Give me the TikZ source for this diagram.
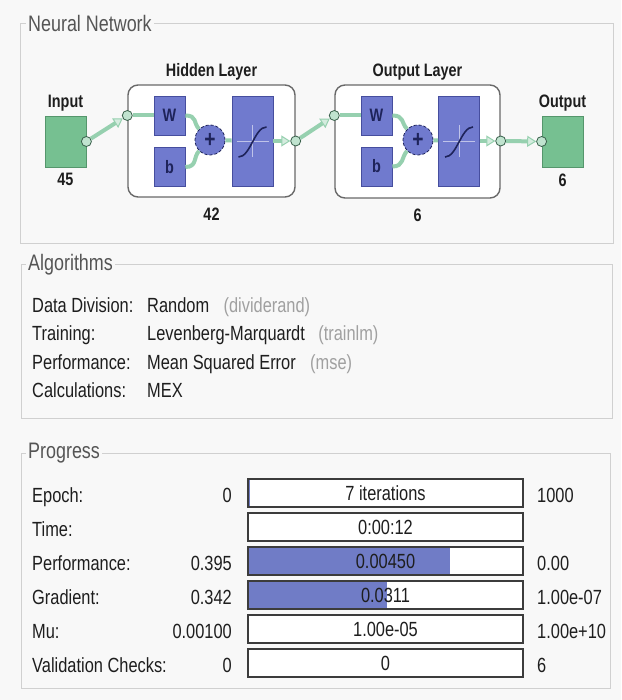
\documentclass[tikz,border=0pt]{standalone}
\usepackage{fontspec}
\setmainfont{Liberation Sans}[FakeStretch=0.8]
\usetikzlibrary{arrows.meta, positioning}

\definecolor{bgcol}{RGB}{248,248,248}
\definecolor{framegray}{RGB}{208,208,208}
\definecolor{titlegray}{RGB}{85,85,85}
\definecolor{textdark}{RGB}{30,30,30}
\definecolor{parengray}{RGB}{160,160,160}
\definecolor{iogreen}{RGB}{118,192,145}
\definecolor{iogreenedge}{RGB}{85,150,108}
\definecolor{conngreen}{RGB}{150,208,175}
\definecolor{connedge}{RGB}{95,160,125}
\definecolor{blockblue}{RGB}{112,122,206}
\definecolor{blockedge}{RGB}{70,78,158}
\definecolor{navy}{RGB}{30,35,90}
\definecolor{layergray}{RGB}{105,105,105}
\definecolor{bardark}{RGB}{60,60,60}
\definecolor{barblue}{RGB}{112,124,198}

\newcommand{\bodyfont}{\fontsize{20.5}{24}\selectfont}
\newcommand{\titlefont}{\fontsize{22.4}{26}\selectfont}
\newcommand{\netfont}{\bfseries\fontsize{18}{21}\selectfont}

\tikzset{
  panel/.style={draw=framegray, line width=0.9pt},
  paneltitle/.style={anchor=west, fill=bgcol, inner sep=2pt, text=titlegray, font=\titlefont},
  netlabel/.style={font=\netfont, text=textdark},
  iobox/.style={draw=iogreenedge, fill=iogreen, line width=0.8pt, minimum width=41pt, minimum height=51pt},
  layer/.style={draw=layergray, fill=white, rounded corners=10pt, line width=1.4pt},
  wbox/.style={draw=blockedge, fill=blockblue, line width=0.8pt, minimum width=31pt, minimum height=39pt, font=\netfont, text=navy},
  tfbox/.style={draw=blockedge, fill=blockblue, line width=0.8pt, minimum width=41pt, minimum height=90pt},
  sumnode/.style={circle, draw=navy, densely dashed, fill=blockblue, line width=0.8pt, minimum size=30pt, font=\bfseries\fontsize{24}{24}\selectfont, text=navy},
  port/.style={circle, draw=connedge!60!black, fill=conngreen!60!white, line width=0.8pt, minimum size=10pt},
  conn/.style={draw=conngreen, line width=4pt},
  flow/.style={conn, -{Triangle[length=9pt, width=11pt, line width=1pt, fill=conngreen!40!white]}},
  sigline/.style={draw=navy, line width=1.6pt},
  axisline/.style={draw=white!55!blockblue, line width=0.5pt},
  rowlabel/.style={anchor=base west},
  rowvalue/.style={anchor=base east},
  fname/.style={anchor=base west, text=parengray},
  bar/.style={draw=bardark, fill=white, line width=1.2pt, minimum width=275pt, minimum height=28pt},
  progress/.style={path picture={\fill[barblue] (path picture bounding box.south west) rectangle ([xshift=#1]path picture bounding box.north west);}}
}

\begin{document}
\begin{tikzpicture}[x=1pt, y=-1pt, every node/.style={inner sep=0pt, font=\bodyfont, text=textdark}]
  \useasboundingbox[fill=bgcol] (0,0) rectangle (621,700);

  % neural network panel
  \draw[panel] (20,23) rectangle (613,243);
  \node[paneltitle] (tNet) at (26,23) {Neural Network};

  \node[iobox] (in) at (65.5,141.5) {};
  \node[netlabel, above=4pt of in] (inName) {Input};
  \node[netlabel, below=6pt of in] (inSize) {45};
  \node[port] (inP) at (in.east) {};

  \node[layer, minimum width=167pt, minimum height=112pt] (hid) at (211.5,141) {};
  \node[netlabel, above=4pt of hid] (hidName) {Hidden Layer};
  \node[netlabel, below=10pt of hid] (hidSize) {42};
  \node[wbox] (hW) at (169.5,115.5) {W};
  \node[wbox] (hB) at (169.5,167) {b};
  \node[sumnode] (hSum) at (210,140) {+};
  \node[tfbox] (hTf) at (252.5,141) {};
  \draw[axisline, shift={(hTf.center)}] (-16,0) -- (16,0) (0,-16) -- (0,16);
  \draw[sigline, shift={(hTf.center)}] (-14,16) .. controls (-2,16) and (2,-14) .. (14,-14);
  \node[port] (hIn) at (hid.west |- hW) {};
  \node[port] (hOut) at (hid.east |- hTf) {};

  \node[layer, minimum width=165pt, minimum height=113pt] (out) at (417.5,141.5) {};
  \node[netlabel, above=4pt of out] (outName) {Output Layer};
  \node[netlabel, below=10pt of out] (outSize) {6};
  \node[wbox] (oW) at (376.5,115.5) {W};
  \node[wbox] (oB) at (376.5,166.5) {b};
  \node[sumnode] (oSum) at (418,140) {+};
  \node[tfbox] (oTf) at (459,141) {};
  \draw[axisline, shift={(oTf.center)}] (-16,0) -- (16,0) (0,-16) -- (0,16);
  \draw[sigline, shift={(oTf.center)}] (-14,16) .. controls (-2,16) and (2,-14) .. (14,-14);
  \node[port] (oIn) at (out.west |- oW) {};
  \node[port] (oOut) at (out.east |- oTf) {};

  \node[iobox] (res) at (562.5,141.5) {};
  \node[netlabel, above=4pt of res] (resName) {Output};
  \node[netlabel, below=6pt of res] (resSize) {6};
  \node[port] (resP) at (res.west) {};

  \draw[flow] (inP) -- (hIn);
  \draw[conn] (hIn) -- (hW);
  \draw[conn] (hW.east) .. controls +(12,0) and +(-6,-6) .. (hSum.north west);
  \draw[conn] (hB.east) .. controls +(12,0) and +(-6,6) .. (hSum.south west);
  \draw[conn] (hSum) -- (hTf);
  \draw[flow] (hTf) -- (hOut);
  \draw[flow] (hOut) -- (oIn);
  \draw[conn] (oIn) -- (oW);
  \draw[conn] (oW.east) .. controls +(12,0) and +(-6,-6) .. (oSum.north west);
  \draw[conn] (oB.east) .. controls +(12,0) and +(-6,6) .. (oSum.south west);
  \draw[conn] (oSum) -- (oTf);
  \draw[flow] (oTf) -- (oOut);
  \draw[flow] (oOut) -- (resP);

  % algorithms panel
  \draw[panel] (21,264) rectangle (612,418);
  \node[paneltitle] (tAlg) at (26,265) {Algorithms};
  \node[rowlabel] (aDiv) at (32,312) {Data Division:};
  \node[rowlabel] (aDivV) at (147,312) {Random};
  \node[fname] (aDivF) at ([xshift=14pt]aDivV.base east) {(dividerand)};
  \node[rowlabel] (aTrn) at (32,340.5) {Training:};
  \node[rowlabel] (aTrnV) at (147,340.5) {Levenberg-Marquardt};
  \node[fname] (aTrnF) at ([xshift=13pt]aTrnV.base east) {(trainlm)};
  \node[rowlabel] (aPrf) at (32,369) {Performance:};
  \node[rowlabel] (aPrfV) at (147,369) {Mean Squared Error};
  \node[fname] (aPrfF) at ([xshift=14pt]aPrfV.base east) {(mse)};
  \node[rowlabel] (aCal) at (32,397.5) {Calculations:};
  \node[rowlabel] (aCalV) at (147,397.5) {MEX};

  % progress panel
  \draw[panel] (21,453) rectangle (610,688);
  \node[paneltitle] (tProg) at (26,453) {Progress};
  \node[rowlabel] (pEpo) at (32,502) {Epoch:};
  \node[rowvalue] (pEpoL) at (232,502) {0};
  \node[bar, progress=2pt] (pEpoB) at (385.5,493) {7 iterations};
  \node[rowlabel] (pEpoR) at (537,502) {1000};
  \node[rowlabel] (pTim) at (32,536) {Time:};
  \node[bar] (pTimB) at (385.5,527) {0:00:12};
  \node[rowlabel] (pPrf) at (32,570) {Performance:};
  \node[rowvalue] (pPrfL) at (232,570) {0.395};
  \node[bar, progress=202pt] (pPrfB) at (385.5,561) {0.00450};
  \node[rowlabel] (pPrfR) at (537,570) {0.00};
  \node[rowlabel] (pGrd) at (32,604) {Gradient:};
  \node[rowvalue] (pGrdL) at (232,604) {0.342};
  \node[bar, progress=139pt] (pGrdB) at (385.5,595) {0.0311};
  \node[rowlabel] (pGrdR) at (537,604) {1.00e-07};
  \node[rowlabel] (pMu) at (32,638) {Mu:};
  \node[rowvalue] (pMuL) at (232,638) {0.00100};
  \node[bar] (pMuB) at (385.5,629) {1.00e-05};
  \node[rowlabel] (pMuR) at (537,638) {1.00e+10};
  \node[rowlabel] (pVal) at (32,672) {Validation Checks:};
  \node[rowvalue] (pValL) at (232,672) {0};
  \node[bar] (pValB) at (385.5,663) {0};
  \node[rowlabel] (pValR) at (537,672) {6};
\end{tikzpicture}
\end{document}
